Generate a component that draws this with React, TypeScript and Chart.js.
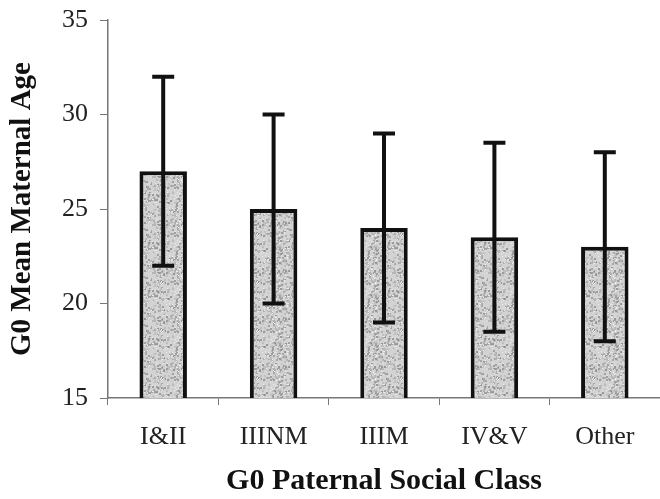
import React, { useEffect, useRef } from "react";
import { Chart, registerables } from "chart.js";

Chart.register(...registerables);

const categories = ["I&II", "IIINM", "IIIM", "IV&V", "Other"];
const meanAge = [27, 25, 24, 23.5, 23];
const errLow = [22, 20, 19, 18.5, 18];
const errHigh = [32, 30, 29, 28.5, 28];
const yTicks = [15, 20, 25, 30, 35];

const SERIF = "'Liberation Serif', 'Times New Roman', serif";

function makePattern(): CanvasPattern | string {
  const c = document.createElement("canvas");
  c.width = 48;
  c.height = 48;
  const ctx = c.getContext("2d");
  if (!ctx) return "#cccccc";
  ctx.fillStyle = "#d3d3d3";
  ctx.fillRect(0, 0, 48, 48);
  let s = 12345;
  const next = () => {
    s = (s * 1103515245 + 12345) & 0x7fffffff;
    return s / 0x7fffffff;
  };
  for (let i = 0; i < 420; i++) {
    const x = Math.floor(next() * 48);
    const y = Math.floor(next() * 48);
    const g = Math.floor(150 + next() * 70);
    ctx.fillStyle = `rgb(${g},${g},${g})`;
    ctx.fillRect(x, y, 2, 2);
  }
  for (let i = 0; i < 120; i++) {
    const x = Math.floor(next() * 48);
    const y = Math.floor(next() * 48);
    ctx.fillStyle = "#ececec";
    ctx.fillRect(x, y, 1, 1);
  }
  return ctx.createPattern(c, "repeat") || "#cccccc";
}

const errorBars = {
  id: "errorBars",
  afterDatasetsDraw(chart: any) {
    const ctx = chart.ctx;
    const meta = chart.getDatasetMeta(0);
    const y = chart.scales.y;
    ctx.save();
    ctx.strokeStyle = "#111";
    ctx.lineWidth = 4;
    meta.data.forEach((bar: any, i: number) => {
      const x = bar.x;
      const yl = y.getPixelForValue(errLow[i]);
      const yh = y.getPixelForValue(errHigh[i]);
      ctx.beginPath();
      ctx.moveTo(x, yl);
      ctx.lineTo(x, yh);
      ctx.moveTo(x - 11, yl);
      ctx.lineTo(x + 11, yl);
      ctx.moveTo(x - 11, yh);
      ctx.lineTo(x + 11, yh);
      ctx.stroke();
    });
    ctx.restore();
  },
};

export default function App() {
  const ref = useRef<HTMLCanvasElement>(null);
  useEffect(() => {
    if (!ref.current) return;
    const chart = new Chart(ref.current, {
      type: "bar",
      data: {
        labels: categories,
        datasets: [
          {
            data: meanAge,
            backgroundColor: makePattern() as any,
            borderColor: "#111",
            borderWidth: 4,
            borderSkipped: false,
            categoryPercentage: 1,
            barPercentage: 0.43,
          },
        ],
      },
      options: {
        animation: false,
        responsive: true,
        maintainAspectRatio: false,
        layout: { padding: { top: 20, right: 0, bottom: 0, left: 0 } },
        plugins: { legend: { display: false }, tooltip: { enabled: false } },
        scales: {
          x: {
            offset: true,
            grid: {
              display: true,
              drawOnChartArea: false,
              drawTicks: true,
              tickLength: 7,
              color: "#777",
              offset: true,
            },
            border: { display: true, color: "#777", width: 1.5 },
            ticks: {
              color: "#222",
              font: { family: SERIF, size: 26 },
              padding: 17,
              maxRotation: 0,
              autoSkip: false,
            },
            title: {
              display: true,
              text: "G0 Paternal Social Class",
              color: "#111",
              font: { family: SERIF, size: 30, weight: "bold" },
              padding: { top: 0, bottom: 0 },
            },
            afterFit: (s: any) => {
              s.height = 101;
              s.paddingLeft = 0;
              s.paddingRight = 0;
            },
          },
          y: {
            min: 15,
            max: 35,
            afterBuildTicks: (s: any) => {
              s.ticks = yTicks.map((v) => ({ value: v }));
            },
            grid: {
              display: true,
              drawOnChartArea: false,
              drawTicks: true,
              tickLength: 8,
              color: "#777",
            },
            border: { display: true, color: "#777", width: 1.5 },
            ticks: {
              color: "#222",
              font: { family: SERIF, size: 26 },
              padding: 12,
            },
            title: {
              display: true,
              text: "G0 Mean Maternal Age",
              color: "#111",
              font: { family: SERIF, size: 29, weight: "bold" },
              padding: { top: 5, bottom: 0 },
            },
            afterFit: (s: any) => {
              s.width = 108;
              s.paddingTop = 0;
              s.paddingBottom = 0;
            },
          },
        },
      },
      plugins: [errorBars],
    });
    return () => chart.destroy();
  }, []);
  return (
    <div style={{ position: "fixed", left: 0, top: 0, width: 660, height: 499, background: "#fff" }}>
      <canvas ref={ref} />
    </div>
  );
}
